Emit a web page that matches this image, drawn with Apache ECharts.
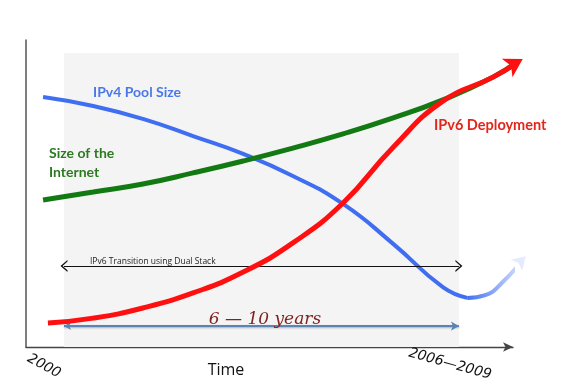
<!DOCTYPE html>
<html><head><meta charset="utf-8">
<script src="https://cdn.jsdelivr.net/npm/echarts@6/dist/echarts.min.js"></script>
<style>html,body{margin:0;padding:0;background:#fff}#c{width:564px;height:392px}</style>
</head><body><div id="c"></div>
<script>
// Schematic chart: x = time (0..100 axis units), y = relative magnitude (0..100)
const ipv4Pool = [[3.5,81.4],[13.8,78.5],[24.0,74.3],[34.3,68.7],[44.6,62.9],[54.8,55.7],[65.1,46.6],[75.4,33.6],[85.6,19.5],[90.6,16.0]];
const ipv4Future = [[90.6,16.0],[94.3,16.9],[97.8,21.0],[102.6,29.6]];
const internetSize = [[3.5,47.9],[13.8,50.5],[24.0,53.1],[34.3,56.7],[44.6,60.6],[54.8,64.8],[65.1,69.4],[75.4,74.6],[85.6,80.5],[95.9,87.9],[101.0,93.0]];
const ipv6Deploy = [[4.5,7.8],[13.8,9.4],[24.0,12.7],[34.3,17.6],[44.6,24.4],[54.8,33.9],[65.1,46.9],[75.4,65.1],[85.6,80.1],[95.9,87.9],[102.0,93.8]];
const transitionPeriod = [7.8, 88.9];   // x start / end of shaded dual-stack period
const shadeTop = 95.8;
const dualStackY = 26.4;
const yearsY = 6.8;
const labels = {
  ipv4: 'IPv4 Pool Size', internet1: 'Size of the', internet2: 'Internet',
  ipv6: 'IPv6 Deployment', transition: 'IPv6 Transition using Dual Stack',
  years: '6 — 10 years', xName: 'Time', start: '2000', end: '2006—2009'
};

function withArrow(arr, rot, size, color) {
  return arr.map((p, i) => i === arr.length - 1
    ? {value: p, symbol: 'arrow', symbolSize: size, symbolRotate: rot, itemStyle: {color: color}}
    : {value: p, symbol: 'none'});
}
const chev = 'path://M0,10 L6,0 L12,10 L10.4,10 L6,3 L1.6,10 Z';

const chart = echarts.init(document.getElementById('c'));
chart.setOption({
  animation: false,
  grid: {left: 26, right: 51, top: 40, bottom: 45},
  xAxis: {type: 'value', min: 0, max: 100,
    axisLine: {show: true, symbol: ['none', 'arrow'], symbolSize: [7, 10], lineStyle: {color: '#444', width: 1.3}},
    axisTick: {show: false}, axisLabel: {show: false}, splitLine: {show: false}},
  yAxis: {type: 'value', min: 0, max: 100,
    axisLine: {show: true, lineStyle: {color: '#555', width: 1.5}},
    axisTick: {show: false}, axisLabel: {show: false}, splitLine: {show: false}},
  series: [
    {type: 'line', data: [], z: 1, silent: true,
     markArea: {silent: true, itemStyle: {color: '#f4f4f4'},
       data: [[{coord: [transitionPeriod[0], 0]}, {coord: [transitionPeriod[1], shadeTop]}]]},
     markLine: {silent: true, animation: false, label: {show: false},
       data: [
         [{coord: [transitionPeriod[0], dualStackY], symbol: chev, symbolSize: [12, 7], lineStyle: {color: '#111', width: 1, type: 'solid'}},
          {coord: [transitionPeriod[1], dualStackY], symbol: chev, symbolSize: [12, 7]}],
         [{coord: [transitionPeriod[0], yearsY], symbol: 'arrow', symbolSize: [6, 7], lineStyle: {color: '#5a84b6', width: 2.2, type: 'solid', shadowBlur: 2, shadowColor: 'rgba(0,0,0,0.3)', shadowOffsetY: 1}},
          {coord: [transitionPeriod[1], yearsY], symbol: 'arrow', symbolSize: [7, 8]}]
       ]}},
    {type: 'line', data: withArrow(ipv4Future, -45, [12, 13], '#e4ebfc'), smooth: 0.5, clip: false, z: 3,
     lineStyle: {width: 4, color: new echarts.graphic.LinearGradient(0, 0, 1, 0, [{offset: 0, color: '#3d6cf2'}, {offset: 1, color: '#e8eefc'}])}},
    {type: 'line', data: ipv4Pool, smooth: 0.5, symbol: 'none', clip: false, z: 3,
     lineStyle: {width: 4, color: '#3f6ff0'}},
    {type: 'line', data: internetSize, smooth: 0.5, symbol: 'none', clip: false, z: 4,
     lineStyle: {width: 5, color: '#137a13'}},
    {type: 'line', data: withArrow(ipv6Deploy, -60, [16, 18], '#ff1010'), smooth: 0.5, clip: false, z: 5,
     lineStyle: {width: 5, color: '#ff1010'}}
  ],
  graphic: {elements: [
    {type: 'text', z: 100, x: 93, y: 92, style: {text: labels.ipv4, font: 'bold 14px Lato, "Open Sans", sans-serif', fill: '#4a78e8', textVerticalAlign: 'middle'}},
    {type: 'text', z: 100, x: 49, y: 153, style: {text: labels.internet1, font: 'bold 14px Lato, "Open Sans", sans-serif', fill: '#2b7a1f', textVerticalAlign: 'middle'}},
    {type: 'text', z: 100, x: 49, y: 172, style: {text: labels.internet2, font: 'bold 14px Lato, "Open Sans", sans-serif', fill: '#2b7a1f', textVerticalAlign: 'middle'}},
    {type: 'text', z: 100, x: 434, y: 125, style: {text: labels.ipv6, font: 'bold 14.5px Lato, "Open Sans", sans-serif', fill: '#e3261c', textVerticalAlign: 'middle'}},
    {type: 'text', z: 100, x: 90, y: 262, style: {text: labels.transition, font: '8.5px "Open Sans", sans-serif', fill: '#222', textVerticalAlign: 'middle'}},
    {type: 'text', z: 100, x: 265, y: 320, style: {text: labels.years, font: 'italic 17px "DejaVu Serif", serif', fill: '#7d2420', textAlign: 'center', textVerticalAlign: 'middle'}},
    {type: 'text', z: 100, x: 226, y: 370, style: {text: labels.xName, font: '16px "Open Sans", sans-serif', fill: '#111', textAlign: 'center', textVerticalAlign: 'middle'}},
    {type: 'text', z: 100, x: 44, y: 366, rotation: -0.5, style: {text: labels.start, font: 'italic 14px "DejaVu Sans", sans-serif', fill: '#111', textAlign: 'center', textVerticalAlign: 'middle'}},
    {type: 'text', z: 100, x: 450, y: 364, rotation: -0.27, style: {text: labels.end, font: 'italic 14px "DejaVu Sans", sans-serif', fill: '#111', textAlign: 'center', textVerticalAlign: 'middle'}}
  ]}
});
</script></body></html>
